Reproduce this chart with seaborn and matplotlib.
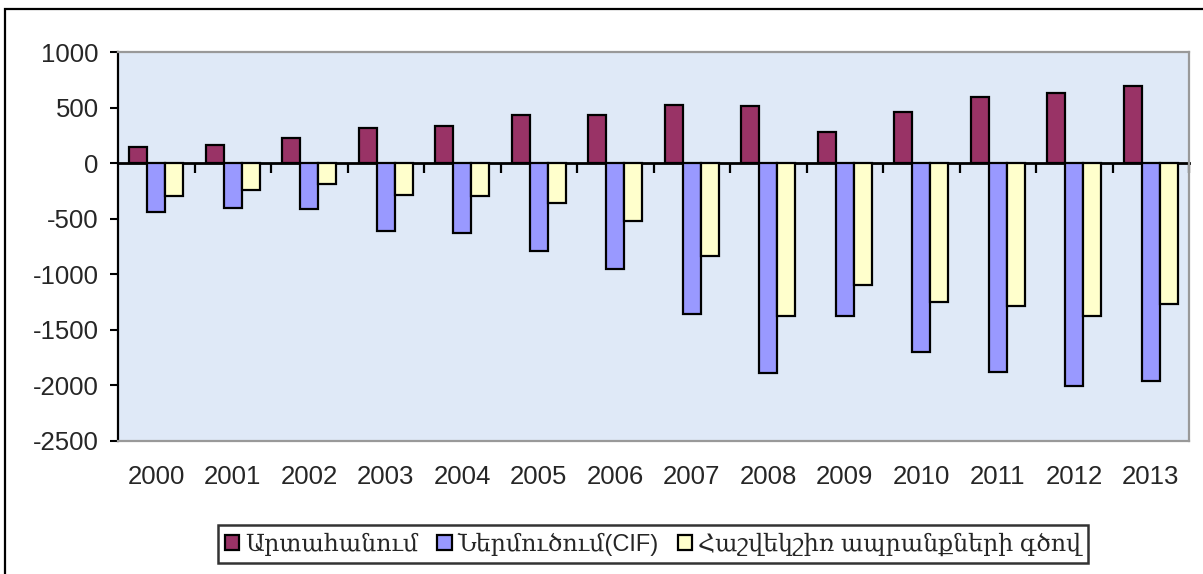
import pandas as pd
import seaborn as sns
import matplotlib.pyplot as plt
from matplotlib.patches import Rectangle

# data (million USD)
years = ['2000', '2001', '2002', '2003', '2004', '2005', '2006',
         '2007', '2008', '2009', '2010', '2011', '2012', '2013']
export_vals = [144, 162, 225, 318, 333, 438, 435, 525, 519, 285, 459, 600, 636, 696]
import_vals = [-436, -400, -412, -607, -625, -793, -952, -1358, -1895, -1382, -1703, -1883, -2009, -1964]
balance_vals = [-292, -243, -184, -288, -292, -358, -517, -835, -1378, -1099, -1247, -1286, -1376, -1268]
series_names = ['Արտահանում', 'Ներմուծում(CIF)', 'Հաշվեկշիռ ապրանքների գծով']
colors = ['#993366', '#9999FF', '#FFFFCC']
y_ticks = [1000, 500, 0, -500, -1000, -1500, -2000, -2500]

df = pd.DataFrame({'year': years * 3,
                   'value': export_vals + import_vals + balance_vals,
                   'series': [series_names[0]] * 14 + [series_names[1]] * 14 + [series_names[2]] * 14})

sns.set_style('white')
plt.rcParams['font.family'] = ['Liberation Sans', 'DejaVu Serif']
plt.rcParams['axes.unicode_minus'] = False

fig = plt.figure(figsize=(12.03, 5.74), dpi=100)
ax = fig.add_axes([118 / 1203, 1 - 440.5 / 574, (1189 - 118) / 1203, (440.5 - 52.3) / 574])

sns.barplot(data=df, x='year', y='value', hue='series', palette=colors, width=0.7,
            edgecolor='black', linewidth=1.6, saturation=1, ax=ax)
ax.get_legend().remove()

ax.set_facecolor('#dfe9f7')
ax.set_ylim(-2500, 1000)
ax.set_xlim(-0.5, 13.5)
ax.set_yticks(y_ticks)
ax.set_xlabel('')
ax.set_ylabel('')
ax.tick_params(axis='y', direction='out', length=6, width=1.5, color='black', pad=8, labelsize=18.5, left=True)
ax.tick_params(axis='x', length=0, pad=18, labelsize=18.5)

for side in ['top', 'right', 'bottom']:
    ax.spines[side].set_color('#999999')
    ax.spines[side].set_linewidth(1.6)
ax.spines['left'].set_color('black')
ax.spines['left'].set_linewidth(1.6)

# category axis crossing at zero with tick marks between groups
sec = ax.secondary_xaxis(0, transform=ax.transData)
sec.set_xticks([i + 0.5 for i in range(len(years))])
sec.set_xticklabels([])
sec.tick_params(direction='out', length=7, width=1.6, color='black')
sec.spines['bottom'].set_color('black')
sec.spines['bottom'].set_linewidth(2)

handles, labels = ax.get_legend_handles_labels()
leg = fig.legend(handles, labels, loc='center', bbox_to_anchor=(653 / 1203, 1 - 544 / 574), ncol=3,
                 frameon=True, fancybox=False, edgecolor='black', fontsize=17, handlelength=0.6,
                 handleheight=0.6, handletextpad=0.25, columnspacing=0.8, borderpad=0.3,
                 borderaxespad=0)
leg.get_frame().set_linewidth(1.8)

fig.patches.append(Rectangle((4.5 / 1203, -0.1), 1.2, 1.1 - 9.5 / 574, transform=fig.transFigure,
                             fill=False, edgecolor='black', linewidth=1.6, clip_on=False))

fig.savefig('out.png', dpi=100)
